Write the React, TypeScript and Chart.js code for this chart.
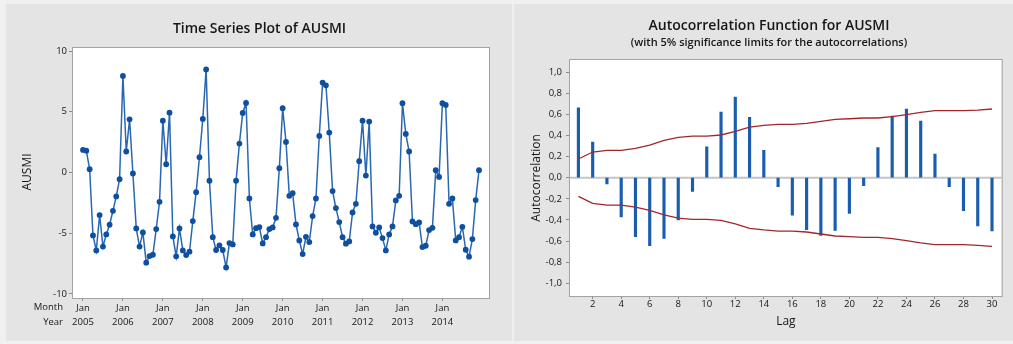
import React, { useEffect, useRef } from "react";
import { Chart, registerables } from "chart.js";
Chart.register(...registerables);

// ---------- Time series data (AUSMI, monthly) ----------
const years = ["2005", "2006", "2007", "2008", "2009", "2010", "2011", "2012", "2013", "2014"];
const ausmi2005 = [1.86, 1.8, 0.27, -5.18, -6.41, -3.5, -6.1, -5.1, -4.3, -3.15, -1.97, -0.55];
const ausmi2006 = [7.95, 1.73, 4.38, -0.08, -4.6, -6.1, -4.93, -7.42, -6.88, -6.77, -4.66, -2.41];
const ausmi2007 = [4.27, 0.68, 4.93, -5.26, -6.9, -4.6, -6.41, -6.8, -6.52, -4.0, -1.62, 1.26];
const ausmi2008 = [4.41, 8.49, -0.68, -5.32, -6.38, -6.0, -6.38, -7.81, -5.81, -5.92, -0.68, 2.38];
const ausmi2009 = [4.9, 5.73, -2.14, -5.1, -4.58, -4.49, -5.84, -5.32, -4.66, -4.52, -3.73, 0.36];
const ausmi2010 = [5.29, 2.52, -1.92, -1.7, -4.27, -5.59, -6.71, -5.29, -5.73, -3.59, -2.14, 3.01];
const ausmi2011 = [7.4, 7.18, 3.29, -1.53, -2.93, -4.08, -5.32, -5.86, -5.67, -3.29, -2.58, 0.93];
const ausmi2012 = [4.27, -0.25, 4.19, -4.44, -4.96, -4.52, -5.4, -6.41, -5.1, -4.44, -2.3, -1.92];
const ausmi2013 = [5.7, 3.18, 1.73, -4.03, -4.25, -4.11, -6.14, -6.03, -4.74, -4.55, 0.19, -0.36];
const ausmi2014 = [5.7, 5.56, -2.58, -2.14, -5.59, -5.32, -4.47, -6.36, -6.93, -5.48, -2.27, 0.19];
const tsYTicks = [-10, -5, 0, 5, 10];

// ---------- ACF data ----------
const lags = [1, 2, 3, 4, 5, 6, 7, 8, 9, 10, 11, 12, 13, 14, 15, 16, 17, 18, 19, 20, 21, 22, 23, 24, 25, 26, 27, 28, 29, 30];
const acfValues = [0.662, 0.337, -0.06, -0.372, -0.558, -0.643, -0.574, -0.4, -0.129, 0.293, 0.621, 0.763, 0.571, 0.259, -0.085, -0.356, -0.492, -0.546, -0.5, -0.338, -0.076, 0.284, 0.584, 0.65, 0.536, 0.224, -0.085, -0.312, -0.457, -0.505];
const upperLimits = [0.177, 0.243, 0.259, 0.259, 0.278, 0.309, 0.353, 0.382, 0.394, 0.394, 0.404, 0.438, 0.479, 0.495, 0.505, 0.505, 0.514, 0.533, 0.552, 0.558, 0.565, 0.565, 0.577, 0.596, 0.618, 0.634, 0.634, 0.634, 0.64, 0.65];
const lowerLimits = [-0.177, -0.243, -0.259, -0.259, -0.278, -0.309, -0.353, -0.382, -0.394, -0.394, -0.404, -0.438, -0.479, -0.495, -0.505, -0.505, -0.514, -0.533, -0.552, -0.558, -0.565, -0.565, -0.577, -0.596, -0.618, -0.634, -0.634, -0.634, -0.64, -0.65];
const acfXTicks = [2, 4, 6, 8, 10, 12, 14, 16, 18, 20, 22, 24, 26, 28, 30];
const acfYTicks = [-1, -0.8, -0.6, -0.4, -0.2, 0, 0.2, 0.4, 0.6, 0.8, 1];

const FONT = '"Open Sans", "Noto Sans", sans-serif';
const TEXT = "#161616";
const TICK_COLOR = "#8a8a8a";

function boxPlugin(drawTexts: (chart: any) => void, zeroLine: boolean) {
  return {
    id: "boxDeco",
    beforeDraw(chart: any) {
      const { ctx, chartArea: a } = chart;
      ctx.save();
      ctx.fillStyle = "#ffffff";
      ctx.fillRect(a.left, a.top, a.right - a.left, a.bottom - a.top);
      ctx.restore();
    },
    beforeDatasetsDraw(chart: any) {
      const { ctx, chartArea: a } = chart;
      ctx.save();
      ctx.strokeStyle = "#a3a3a3";
      ctx.lineWidth = 1;
      ctx.strokeRect(a.left - 0.5, a.top - 0.5, a.right - a.left + 1, a.bottom - a.top + 1);
      if (zeroLine) {
        const y = chart.scales.y.getPixelForValue(0);
        ctx.strokeStyle = "#c4c4c4";
        ctx.lineWidth = 2;
        ctx.beginPath();
        ctx.moveTo(a.left, y);
        ctx.lineTo(a.right, y);
        ctx.stroke();
      }
      ctx.restore();
    },
    afterDraw(chart: any) {
      drawTexts(chart);
    },
  };
}

function text(ctx: any, s: string, x: number, y: number, font: string, align = "center", rotate = false) {
  ctx.save();
  ctx.fillStyle = TEXT;
  ctx.font = font;
  ctx.textAlign = align;
  ctx.textBaseline = "middle";
  if (rotate) {
    ctx.translate(x, y);
    ctx.rotate(-Math.PI / 2);
    ctx.fillText(s, 0, 0);
  } else {
    ctx.fillText(s, x, y);
  }
  ctx.restore();
}

function TimeSeriesChart() {
  const ref = useRef<HTMLCanvasElement | null>(null);
  useEffect(() => {
    const all = [
      ...ausmi2005, ...ausmi2006, ...ausmi2007, ...ausmi2008, ...ausmi2009,
      ...ausmi2010, ...ausmi2011, ...ausmi2012, ...ausmi2013, ...ausmi2014,
    ];
    const pts = all.map((v, i) => ({ x: i, y: v }));
    const chart = new Chart(ref.current as HTMLCanvasElement, {
      type: "line",
      data: {
        datasets: [
          {
            data: pts,
            borderColor: "#2a67b3",
            borderWidth: 1.5,
            pointRadius: 2.9,
            pointBackgroundColor: "#0e4f9f",
            pointBorderWidth: 0,
            tension: 0,
          },
        ],
      },
      options: {
        responsive: false,
        maintainAspectRatio: false,
        animation: false,
        devicePixelRatio: 1,
        layout: { padding: { left: 0, top: 44, right: 23, bottom: 0 } },
        plugins: { legend: { display: false }, tooltip: { enabled: false }, title: { display: false } },
        scales: {
          x: {
            type: "linear",
            min: -3,
            max: 122,
            afterBuildTicks: (s: any) => {
              s.ticks = years.map((_, i) => ({ value: i * 12 }));
            },
            afterFit: (s: any) => {
              s.height = 43;
            },
            ticks: {
              autoSkip: false,
              maxRotation: 0,
              padding: 0,
              color: TEXT,
              font: { family: FONT, size: 9.5, weight: "500", lineHeight: 1.5 },
              callback: (_v: any, i: number) => ["Jan", years[i]],
            },
            grid: { drawOnChartArea: false, drawTicks: true, tickLength: 3, color: TICK_COLOR },
            border: { display: false },
          },
          y: {
            min: -10.33,
            max: 10.25,
            afterBuildTicks: (s: any) => {
              s.ticks = tsYTicks.map((v) => ({ value: v }));
            },
            afterFit: (s: any) => {
              s.width = 67;
            },
            ticks: { padding: 2, color: TEXT, font: { family: FONT, size: 9.5, weight: "500" } },
            grid: { drawOnChartArea: false, drawTicks: true, tickLength: 4, color: TICK_COLOR },
            border: { display: false },
          },
        },
      },
      plugins: [
        boxPlugin((c: any) => {
          const ctx = c.ctx;
          text(ctx, "Time Series Plot of AUSMI", 253.5, 25, `600 14px ${FONT}`);
          text(ctx, "AUSMI", 22, 168, `500 12px ${FONT}`, "center", true);
          text(ctx, "Month", 57, 303, `500 9.5px ${FONT}`, "right");
          text(ctx, "Year", 57, 318, `500 9.5px ${FONT}`, "right");
        }, false),
      ],
    } as any);
    return () => chart.destroy();
  }, []);
  return (
    <canvas
      ref={ref}
      width={506}
      height={337}
      style={{ position: "absolute", left: 6, top: 4, width: 506, height: 337, background: "#e4e4e4" }}
    />
  );
}

function AcfChart() {
  const ref = useRef<HTMLCanvasElement | null>(null);
  useEffect(() => {
    const chart = new Chart(ref.current as HTMLCanvasElement, {
      type: "bar",
      data: {
        datasets: [
          {
            type: "bar",
            data: lags.map((l, i) => ({ x: l, y: acfValues[i] })),
            backgroundColor: "#1a5dae",
            borderWidth: 0,
            barThickness: 2.5,
            order: 2,
          },
          {
            type: "line",
            data: lags.map((l, i) => ({ x: l, y: upperLimits[i] })),
            borderColor: "#a3262a",
            borderWidth: 1.3,
            pointRadius: 0,
            tension: 0,
            order: 1,
          },
          {
            type: "line",
            data: lags.map((l, i) => ({ x: l, y: lowerLimits[i] })),
            borderColor: "#a3262a",
            borderWidth: 1.3,
            pointRadius: 0,
            tension: 0,
            order: 1,
          },
        ],
      },
      options: {
        responsive: false,
        maintainAspectRatio: false,
        animation: false,
        devicePixelRatio: 1,
        layout: { padding: { left: 0, top: 56, right: 11.3, bottom: 0 } },
        plugins: { legend: { display: false }, tooltip: { enabled: false }, title: { display: false } },
        scales: {
          x: {
            type: "linear",
            offset: false,
            min: 0.41,
            max: 30.68,
            afterBuildTicks: (s: any) => {
              s.ticks = acfXTicks.map((v) => ({ value: v }));
            },
            afterFit: (s: any) => {
              s.height = 45;
            },
            ticks: { autoSkip: false, maxRotation: 0, padding: 0, color: TEXT, font: { family: FONT, size: 9.5, weight: "500" } },
            grid: { offset: false, drawOnChartArea: false, drawTicks: true, tickLength: 3, color: TICK_COLOR },
            border: { display: false },
          },
          y: {
            min: -1.12,
            max: 1.114,
            afterBuildTicks: (s: any) => {
              s.ticks = acfYTicks.map((v) => ({ value: v }));
            },
            afterFit: (s: any) => {
              s.width = 56;
            },
            ticks: {
              padding: 4,
              color: TEXT,
              font: { family: FONT, size: 9.5, weight: "500" },
              callback: (v: any) => Number(v).toFixed(1).replace(".", ","),
            },
            grid: { drawOnChartArea: false, drawTicks: true, tickLength: 4, color: TICK_COLOR },
            border: { display: false },
          },
        },
      },
      plugins: [
        boxPlugin((c: any) => {
          const ctx = c.ctx;
          const a = c.chartArea;
          text(ctx, "Autocorrelation Function for AUSMI", 255, 22, `600 14px ${FONT}`);
          text(ctx, "(with 5% significance limits for the autocorrelations)", 255, 39, `600 11px ${FONT}`);
          text(ctx, "Autocorrelation", 22.7, (a.top + a.bottom) / 2, `500 12px ${FONT}`, "center", true);
          text(ctx, "Lag", (a.left + a.right) / 2, 318, `500 12px ${FONT}`);
        }, true),
      ],
    } as any);
    return () => chart.destroy();
  }, []);
  return (
    <canvas
      ref={ref}
      width={499}
      height={337}
      style={{ position: "absolute", left: 514, top: 4, width: 499, height: 337, background: "#e4e4e4" }}
    />
  );
}

export default function App() {
  return (
    <div style={{ position: "absolute", left: 0, top: 0, width: 1013, height: 344, background: "#f0f0f0", overflow: "hidden" }}>
      <TimeSeriesChart />
      <AcfChart />
    </div>
  );
}
